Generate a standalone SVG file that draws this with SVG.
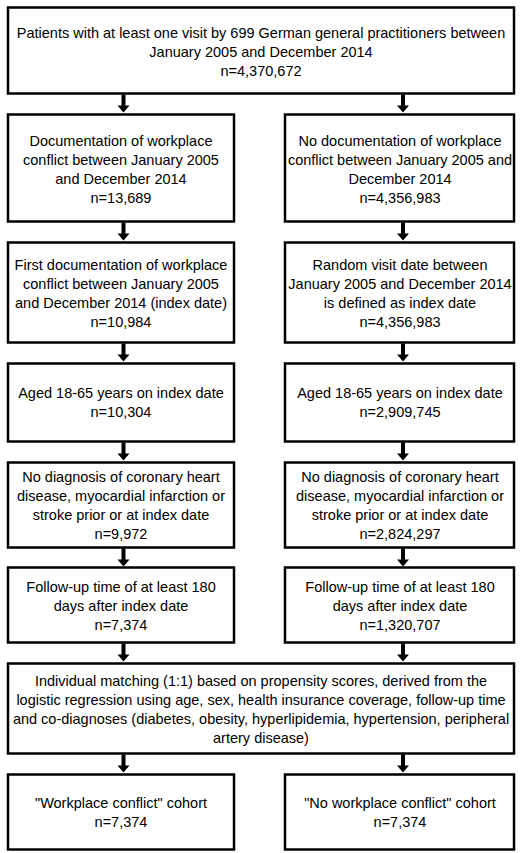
<svg xmlns="http://www.w3.org/2000/svg" width="520" height="853" viewBox="0 0 520 853">
<style>
.box{fill:#fff;stroke:#000;stroke-width:2.5}
text{font-family:"Liberation Sans",Arial,sans-serif;font-size:14.5px;fill:#000;text-anchor:middle}
.arr{fill:#000}
</style>
<defs>
<path id="arrow" d="M-2,0 H2 V11 H6 L0,18 L-6,11 H-2 Z"/>
</defs>
<rect width="520" height="853" fill="#fff"/>
<g id="connectors" class="arr">
<use href="#arrow" x="123.5" y="94.5"/>
<use href="#arrow" x="403" y="94.5"/>
<use href="#arrow" x="123.5" y="222.5"/>
<use href="#arrow" x="403" y="222.5"/>
<use href="#arrow" x="123.5" y="343.5"/>
<use href="#arrow" x="403" y="343.5"/>
<use href="#arrow" x="123.5" y="442.5"/>
<use href="#arrow" x="403" y="442.5"/>
<use href="#arrow" x="123.5" y="548.5"/>
<use href="#arrow" x="403" y="548.5"/>
<use href="#arrow" x="123.5" y="643.5"/>
<use href="#arrow" x="403" y="643.5"/>
<use href="#arrow" x="123.5" y="754.5"/>
<use href="#arrow" x="403" y="754.5"/>
</g>
<g id="n-top"><rect class="box" x="8" y="7.5" width="506" height="86"/>
<text x="261" y="37.5">Patients with at least one visit by 699 German general practitioners between</text>
<text x="261" y="56.5">January 2005 and December 2014</text>
<text x="261" y="75.5">n=4,370,672</text></g>
<g id="n-l2"><rect class="box" x="8" y="114.5" width="226" height="107"/>
<text x="121" y="146">Documentation of workplace</text>
<text x="121" y="165">conflict between January 2005</text>
<text x="121" y="184">and December 2014</text>
<text x="121" y="203">n=13,689</text></g>
<g id="n-r2"><rect class="box" x="285" y="114.5" width="229" height="107"/>
<text x="400" y="146">No documentation of workplace</text>
<text x="400" y="165">conflict between January 2005 and</text>
<text x="400" y="184">December 2014</text>
<text x="400" y="203">n=4,356,983</text></g>
<g id="n-l3"><rect class="box" x="8" y="242.5" width="226" height="100"/>
<text x="121" y="270">First documentation of workplace</text>
<text x="121" y="289">conflict between January 2005</text>
<text x="121" y="308">and December 2014 (index date)</text>
<text x="121" y="327">n=10,984</text></g>
<g id="n-r3"><rect class="box" x="285" y="242.5" width="229" height="100"/>
<text x="400" y="270">Random visit date between</text>
<text x="400" y="289">January 2005 and December 2014</text>
<text x="400" y="308">is defined as index date</text>
<text x="400" y="327">n=4,356,983</text></g>
<g id="n-l4"><rect class="box" x="8" y="363.5" width="226" height="78"/>
<text x="121" y="398">Aged 18-65 years on index date</text>
<text x="121" y="417">n=10,304</text></g>
<g id="n-r4"><rect class="box" x="285" y="363.5" width="229" height="78"/>
<text x="400" y="398">Aged 18-65 years on index date</text>
<text x="400" y="417">n=2,909,745</text></g>
<g id="n-l5"><rect class="box" x="8" y="462.5" width="226" height="85"/>
<text x="121" y="482">No diagnosis of coronary heart</text>
<text x="121" y="501">disease, myocardial infarction or</text>
<text x="121" y="520">stroke prior or at index date</text>
<text x="121" y="539">n=9,972</text></g>
<g id="n-r5"><rect class="box" x="285" y="462.5" width="229" height="85"/>
<text x="400" y="482">No diagnosis of coronary heart</text>
<text x="400" y="501">disease, myocardial infarction or</text>
<text x="400" y="520">stroke prior or at index date</text>
<text x="400" y="539">n=2,824,297</text></g>
<g id="n-l6"><rect class="box" x="8" y="567.5" width="226" height="75"/>
<text x="121" y="592">Follow-up time of at least 180</text>
<text x="121" y="611">days after index date</text>
<text x="121" y="630">n=7,374</text></g>
<g id="n-r6"><rect class="box" x="285" y="567.5" width="229" height="75"/>
<text x="400" y="592">Follow-up time of at least 180</text>
<text x="400" y="611">days after index date</text>
<text x="400" y="630">n=1,320,707</text></g>
<g id="n-match"><rect class="box" x="8" y="663.5" width="506" height="90"/>
<text x="261" y="686">Individual matching (1:1) based on propensity scores, derived from the</text>
<text x="261" y="705">logistic regression using age, sex, health insurance coverage, follow-up time</text>
<text x="261" y="724">and co-diagnoses (diabetes, obesity, hyperlipidemia, hypertension, peripheral</text>
<text x="261" y="743">artery disease)</text></g>
<g id="n-l7"><rect class="box" x="8" y="774.5" width="226" height="75"/>
<text x="121" y="808">"Workplace conflict" cohort</text>
<text x="121" y="827">n=7,374</text></g>
<g id="n-r7"><rect class="box" x="285" y="774.5" width="229" height="75"/>
<text x="400" y="808">"No workplace conflict" cohort</text>
<text x="400" y="827">n=7,374</text></g>
</svg>
